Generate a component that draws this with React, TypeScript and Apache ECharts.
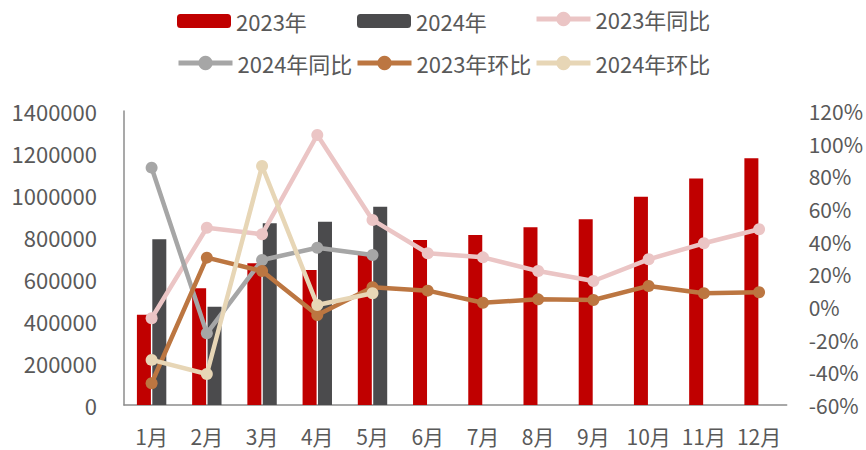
import React, { useEffect, useRef } from "react";
import * as echarts from "echarts";

const months = ["1月", "2月", "3月", "4月", "5月", "6月", "7月", "8月", "9月", "10月", "11月", "12月"];
const vol2023 = [430000, 556000, 675000, 643000, 725000, 786000, 810000, 846000, 884000, 992000, 1078000, 1175000];
const vol2024 = [789000, 468000, 865000, 873000, 944000, null, null, null, null, null, null, null];
const yoy2023 = [-6.9, 48.5, 44.5, 105.3, 53.3, 32.9, 30.4, 22.0, 15.9, 29.2, 39.0, 47.6];
const yoy2024 = [85.3, -16.1, 28.8, 36.3, 31.8, null, null, null, null, null, null, null];
const mom2023 = [-46.7, 30.2, 22.0, -4.9, 12.1, 10.0, 2.6, 4.7, 4.3, 12.9, 8.4, 9.0];
const mom2024 = [-32.4, -41.0, 86.3, 1.2, 8.4, null, null, null, null, null, null, null];

const FONT = "'Noto Sans CJK SC', 'Noto Sans', sans-serif";
const TXT = "#595959";

const C_2023 = "#C00000";
const C_2024 = "#4B4B4D";
const C_YOY23 = "#EBC5C5";
const C_YOY24 = "#A6A6A6";
const C_MOM23 = "#BC7641";
const C_MOM24 = "#E7D6B6";

function legendAt(name: string, left: number, top: number, isLine: boolean) {
  const h = isLine ? 18 : 14;
  return {
    data: [name],
    left,
    top: top - h / 2,
    padding: 0,
    itemWidth: 54,
    itemHeight: h,
    itemGap: 0,
    textStyle: { fontFamily: FONT, fontSize: 22, color: TXT, padding: [0, 0, 0, 0] },
    lineStyle: { width: 5 },
  };
}

export default function App() {
  const ref = useRef<HTMLDivElement>(null);
  useEffect(() => {
    if (!ref.current) return;
    const chart = echarts.init(ref.current, null, { renderer: "svg" });
    const lineSeries = (name: string, data: (number | null)[], color: string) => ({
      name,
      type: "line",
      yAxisIndex: 1,
      data,
      symbol: "circle",
      symbolSize: 12,
      showSymbol: true,
      lineStyle: { width: 4.5, color },
      itemStyle: { color },
      connectNulls: false,
    });
    chart.setOption({
      animation: false,
      textStyle: { fontFamily: FONT },
      legend: [
        legendAt("2023年", 177, 17, false),
        legendAt("2024年", 357, 17, false),
        legendAt("2023年同比", 534, 17, true),
        legendAt("2024年同比", 176, 61, true),
        legendAt("2023年环比", 355, 61, true),
        legendAt("2024年环比", 534, 61, true),
      ],
      grid: { left: 124, right: 78, top: 111, bottom: 45, containLabel: false },
      xAxis: {
        type: "category",
        data: months,
        axisLine: { show: true, lineStyle: { color: "#8C8C8C", width: 1.5 } },
        axisTick: { show: false },
        axisLabel: { color: TXT, fontSize: 21, fontFamily: FONT, margin: 20, interval: 0, hideOverlap: false },
      },
      yAxis: [
        {
          type: "value",
          min: 0,
          max: 1400000,
          interval: 200000,
          splitLine: { show: false },
          axisLine: { show: true, lineStyle: { color: "#8C8C8C", width: 1.5 } },
          axisTick: { show: false },
          axisLabel: { color: TXT, fontSize: 22, fontFamily: FONT, margin: 27, formatter: (v: number) => String(v) },
        },
        {
          type: "value",
          min: -60,
          max: 120,
          interval: 20,
          splitLine: { show: false },
          axisLine: { show: false },
          axisTick: { show: false },
          axisLabel: { color: TXT, fontSize: 21, fontFamily: FONT, margin: 22, formatter: "{value}%" },
        },
      ],
      series: [
        { name: "2023年", type: "bar", data: vol2023, barWidth: 14, barGap: "10%", itemStyle: { color: C_2023 } },
        { name: "2024年", type: "bar", data: vol2024, barWidth: 14, barGap: "10%", itemStyle: { color: C_2024 } },
        lineSeries("2023年同比", yoy2023, C_YOY23),
        lineSeries("2024年同比", yoy2024, C_YOY24),
        lineSeries("2023年环比", mom2023, C_MOM23),
        lineSeries("2024年环比", mom2024, C_MOM24),
      ],
    });
    return () => chart.dispose();
  }, []);
  return <div ref={ref} style={{ width: 866, height: 450, position: "absolute", left: 0, top: 0 }} />;
}
